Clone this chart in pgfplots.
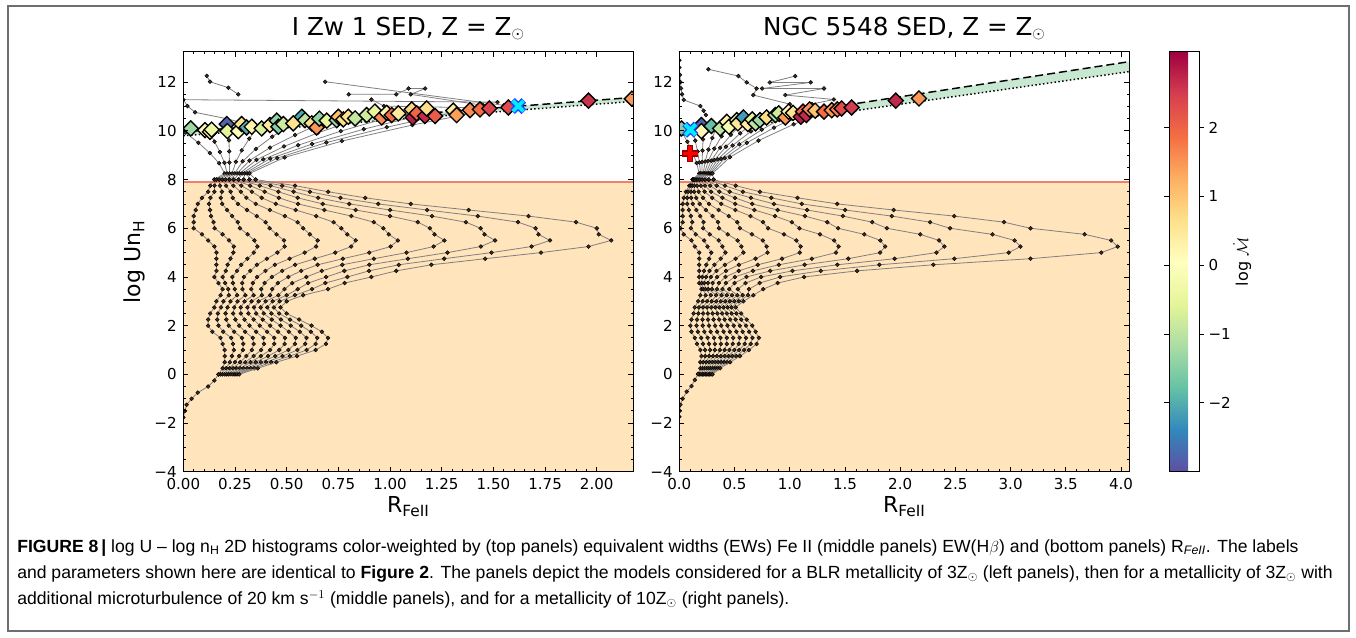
\documentclass[border=0pt]{standalone}
\usepackage{fontspec}
\setmainfont{DejaVu Sans}
\newfontfamily\capfont{Liberation Sans}
\usepackage{pgfplots}
\usepackage{pgfplotstable}
\pgfplotsset{compat=1.18}

\definecolor{bgorange}{RGB}{255,228,188}
\definecolor{hline}{RGB}{240,128,108}
\definecolor{bandgreen}{RGB}{200,232,210}
\definecolor{xcyan}{RGB}{0,235,255}
\definecolor{xblue}{RGB}{30,70,255}
\definecolor{pred}{RGB}{255,0,0}
\definecolor{pdark}{RGB}{150,0,0}
\definecolor{framegray}{RGB}{110,110,110}
\definecolor{dotfill}{RGB}{60,45,30}

% model grid, I Zw 1 SED: one column per track
\pgfplotstableread{
y c0 c1 c2 c3 c4 c5 c6 c7 c8 c9 c10
0.00 0.17 0.18 0.19 0.20 0.21 0.22 0.23 0.24 0.25 0.26 0.27
0.25 0.19 0.207 0.224 0.241 0.258 0.275 0.292 0.309 0.326 0.343 0.36
0.50 0.20 0.225 0.25 0.275 0.30 0.325 0.35 0.375 0.40 0.425 0.45
0.75 0.20 0.235 0.27 0.305 0.34 0.375 0.41 0.445 0.48 0.515 0.55
1.00 0.20 0.244 0.288 0.332 0.376 0.42 0.464 0.508 0.552 0.596 0.64
1.25 0.19 0.24 0.29 0.34 0.39 0.44 0.49 0.54 0.59 0.64 0.69
1.50 0.18 0.232 0.284 0.336 0.388 0.44 0.492 0.544 0.596 0.648 0.70
1.75 0.14 0.193 0.246 0.299 0.352 0.405 0.458 0.511 0.564 0.617 0.67
2.00 0.12 0.17 0.22 0.27 0.32 0.37 0.42 0.47 0.52 0.57 0.62
2.25 0.12 0.164 0.208 0.252 0.296 0.34 0.384 0.428 0.472 0.516 0.56
2.50 0.13 0.167 0.204 0.241 0.278 0.315 0.352 0.389 0.426 0.463 0.50
2.75 0.15 0.182 0.214 0.246 0.278 0.31 0.342 0.374 0.406 0.438 0.47
3.00 0.16 0.194 0.228 0.262 0.296 0.33 0.364 0.398 0.432 0.466 0.50
3.25 0.18 0.22 0.26 0.30 0.34 0.38 0.42 0.46 0.50 0.54 0.58
3.50 0.19 0.217 0.249 0.286 0.329 0.377 0.430 0.489 0.553 0.622 0.70
3.75 0.17 0.202 0.240 0.285 0.336 0.393 0.457 0.527 0.604 0.687 0.78
4.00 0.15 0.190 0.237 0.293 0.357 0.428 0.508 0.595 0.691 0.794 0.91
4.25 0.16 0.205 0.260 0.324 0.397 0.478 0.570 0.670 0.779 0.898 1.03
4.50 0.16 0.214 0.280 0.356 0.443 0.541 0.650 0.769 0.900 1.042 1.20
4.75 0.16 0.228 0.310 0.404 0.514 0.636 0.772 0.922 1.086 1.262 1.46
5.00 0.16 0.242 0.341 0.455 0.587 0.735 0.899 1.080 1.278 1.491 1.73
5.25 0.15 0.244 0.358 0.490 0.642 0.812 1.003 1.211 1.439 1.685 1.96
5.50 0.12 0.221 0.344 0.487 0.650 0.834 1.038 1.263 1.508 1.774 2.07
5.75 0.09 0.190 0.311 0.451 0.612 0.793 0.994 1.215 1.457 1.718 2.01
6.00 0.05 0.151 0.274 0.417 0.580 0.764 0.968 1.193 1.438 1.704 2.00
6.25 0.05 0.146 0.263 0.398 0.553 0.727 0.921 1.134 1.367 1.619 1.90
6.50 0.05 0.134 0.236 0.355 0.491 0.643 0.813 1.000 1.203 1.424 1.67
6.75 0.06 0.129 0.212 0.308 0.419 0.543 0.682 0.834 1.000 1.179 1.38
7.00 0.07 0.124 0.188 0.264 0.350 0.447 0.555 0.674 0.803 0.943 1.10
7.25 0.09 0.131 0.181 0.239 0.305 0.379 0.462 0.553 0.652 0.760 0.88
7.50 0.12 0.150 0.187 0.229 0.278 0.332 0.393 0.460 0.533 0.612 0.70
7.75 0.13 0.151 0.177 0.207 0.242 0.280 0.323 0.370 0.422 0.478 0.54
8.00 0.15 0.160 0.173 0.188 0.204 0.223 0.244 0.267 0.292 0.320 0.35
}\gridL

% upper fan above the waist, I Zw 1
\pgfplotstableread{
x0 y0 x1 y1 x2 y2 x3 y3 x4 y4 x5 y5 x6 y6 x7 y7 x8 y8 x9 y9 x10 y10
0.15 8.0 0.16 8.0 0.173 8.0 0.188 8.0 0.204 8.0 0.223 8.0 0.244 8.0 0.267 8.0 0.292 8.0 0.32 8.0 0.35 8.0
0.20 8.25 0.212 8.25 0.224 8.25 0.236 8.25 0.248 8.25 0.26 8.25 0.272 8.25 0.284 8.25 0.296 8.25 0.308 8.25 0.32 8.25
0.173 8.67 0.199 8.69 0.223 8.70 0.254 8.73 0.287 8.75 0.320 8.78 0.354 8.81 0.387 8.83 0.420 8.86 0.454 8.88 0.490 8.91
0.128 9.09 0.177 9.13 0.222 9.16 0.283 9.20 0.351 9.26 0.419 9.31 0.487 9.36 0.555 9.41 0.623 9.46 0.692 9.52 0.767 9.58
0.073 9.51 0.151 9.56 0.221 9.61 0.319 9.68 0.430 9.76 0.541 9.83 0.651 9.92 0.762 9.99 0.873 10.07 0.984 10.15 1.108 10.24
0.01 9.93 0.12 10.00 0.22 10.06 0.36 10.15 0.52 10.26 0.68 10.36 0.84 10.47 1.00 10.57 1.16 10.67 1.32 10.78 1.50 10.90
}\fanL

% model grid, NGC 5548 SED
\pgfplotstableread{
y c0 c1 c2 c3 c4 c5 c6 c7 c8 c9 c10
0.00 0.17 0.183 0.196 0.209 0.222 0.235 0.248 0.261 0.274 0.287 0.30
0.25 0.19 0.208 0.226 0.244 0.262 0.28 0.298 0.316 0.334 0.352 0.37
0.50 0.19 0.217 0.244 0.271 0.298 0.325 0.352 0.379 0.406 0.433 0.46
0.75 0.20 0.235 0.27 0.305 0.34 0.375 0.41 0.445 0.48 0.515 0.55
1.00 0.19 0.234 0.278 0.322 0.366 0.41 0.454 0.498 0.542 0.586 0.63
1.25 0.16 0.214 0.268 0.322 0.376 0.43 0.484 0.538 0.592 0.646 0.70
1.50 0.14 0.198 0.256 0.314 0.372 0.43 0.488 0.546 0.604 0.662 0.72
1.75 0.11 0.168 0.226 0.284 0.342 0.40 0.458 0.516 0.574 0.632 0.69
2.00 0.10 0.156 0.212 0.268 0.324 0.38 0.436 0.492 0.548 0.604 0.66
2.25 0.11 0.16 0.21 0.26 0.31 0.36 0.41 0.46 0.51 0.56 0.61
2.50 0.13 0.173 0.216 0.259 0.302 0.345 0.388 0.431 0.474 0.517 0.56
2.75 0.14 0.177 0.214 0.251 0.288 0.325 0.362 0.399 0.436 0.473 0.51
3.00 0.17 0.211 0.252 0.293 0.334 0.375 0.416 0.457 0.498 0.539 0.58
3.25 0.19 0.238 0.286 0.334 0.382 0.43 0.478 0.526 0.574 0.622 0.67
3.50 0.20 0.217 0.236 0.262 0.295 0.34 0.390 0.452 0.530 0.631 0.76
3.75 0.18 0.201 0.226 0.258 0.301 0.358 0.421 0.500 0.599 0.727 0.89
4.00 0.18 0.209 0.242 0.285 0.342 0.418 0.503 0.608 0.741 0.912 1.13
4.25 0.18 0.223 0.273 0.337 0.423 0.538 0.666 0.824 1.024 1.281 1.61
4.50 0.18 0.244 0.318 0.413 0.540 0.71 0.901 1.134 1.431 1.812 2.30
4.75 0.18 0.27 0.375 0.51 0.69 0.93 1.20 1.53 1.95 2.49 3.18
5.00 0.18 0.289 0.417 0.580 0.799 1.09 1.418 1.818 2.328 2.983 3.82
5.25 0.14 0.255 0.389 0.561 0.791 1.098 1.442 1.864 2.40 3.089 3.97
5.50 0.11 0.224 0.357 0.528 0.756 1.06 1.402 1.82 2.352 3.036 3.91
5.75 0.04 0.149 0.276 0.439 0.657 0.948 1.274 1.674 2.182 2.835 3.67
6.00 0.01 0.105 0.216 0.359 0.549 0.803 1.088 1.437 1.880 2.451 3.18
6.25 0.03 0.117 0.219 0.350 0.525 0.758 1.019 1.34 1.747 2.271 2.94
6.50 0.03 0.104 0.190 0.301 0.448 0.645 0.866 1.137 1.481 1.924 2.49
6.75 0.03 0.087 0.154 0.240 0.355 0.508 0.679 0.890 1.157 1.501 1.94
7.00 0.03 0.072 0.121 0.184 0.268 0.38 0.506 0.66 0.856 1.108 1.43
7.25 0.04 0.071 0.107 0.153 0.215 0.298 0.390 0.504 0.648 0.833 1.07
7.50 0.06 0.080 0.104 0.134 0.174 0.228 0.288 0.362 0.455 0.576 0.73
7.75 0.09 0.103 0.117 0.136 0.161 0.195 0.233 0.279 0.338 0.413 0.51
8.00 0.12 0.126 0.132 0.141 0.152 0.168 0.185 0.206 0.232 0.266 0.31
}\gridR

\pgfplotstableread{
x0 y0 x1 y1 x2 y2 x3 y3 x4 y4 x5 y5 x6 y6 x7 y7 x8 y8 x9 y9 x10 y10
0.12 8.0 0.126 8.0 0.132 8.0 0.141 8.0 0.152 8.0 0.168 8.0 0.185 8.0 0.206 8.0 0.232 8.0 0.266 8.0 0.31 8.0
0.18 8.25 0.192 8.25 0.204 8.25 0.216 8.25 0.228 8.25 0.24 8.25 0.252 8.25 0.264 8.25 0.276 8.25 0.288 8.25 0.30 8.25
0.157 8.68 0.182 8.70 0.206 8.72 0.234 8.74 0.261 8.76 0.289 8.78 0.317 8.80 0.347 8.83 0.377 8.85 0.411 8.88 0.458 8.92
0.119 9.12 0.165 9.15 0.210 9.19 0.263 9.23 0.316 9.27 0.369 9.31 0.422 9.35 0.482 9.40 0.543 9.45 0.611 9.51 0.717 9.60
0.073 9.55 0.144 9.60 0.215 9.65 0.299 9.71 0.383 9.78 0.467 9.84 0.551 9.90 0.649 9.98 0.746 10.05 0.857 10.13 1.035 10.27
0.02 9.98 0.12 10.05 0.22 10.12 0.34 10.20 0.46 10.29 0.58 10.37 0.70 10.45 0.84 10.55 0.98 10.65 1.14 10.76 1.40 10.94
}\fanR

% best-fit diamonds: R_FeII, log U n_H, log Mdot
\pgfplotstableread{
x y c
0.036 10.10 -1.3
0.105 10.03 0.2
0.129 9.96 0.5
0.137 10.05 -0.4
0.210 10.28 -2.8
0.213 9.99 -0.6
0.266 9.99 0.1
0.282 10.28 0.6
0.306 10.14 -2.0
0.331 10.17 0.3
0.379 10.10 -0.7
0.419 10.24 0.5
0.452 10.42 -1.4
0.460 10.17 -1.5
0.484 10.28 -0.8
0.532 10.31 0.6
0.573 10.58 -2.1
0.589 10.44 -1.0
0.621 10.31 0.7
0.645 10.14 1.5
0.658 10.50 -1.4
0.694 10.42 -0.5
0.742 10.44 -1.3
0.750 10.58 1.1
0.774 10.47 0.7
0.798 10.58 0.6
0.831 10.51 -0.9
0.887 10.65 -0.8
0.927 10.79 -0.5
0.960 10.55 1.6
0.984 10.74 0.3
1.008 10.65 1.9
1.040 10.72 0.5
1.105 10.88 0.8
1.110 10.55 2.8
1.129 10.72 2.0
1.169 10.61 2.7
1.177 10.92 0.7
1.218 10.61 2.1
1.306 10.83 0.4
1.322 10.65 1.4
1.387 10.85 1.6
1.435 10.88 1.9
1.480 10.92 2.4
1.572 10.96 2.3
1.960 11.24 2.6
2.170 11.32 1.5
}\diaL

\pgfplotstableread{
x y c
0.02 10.10 -1.5
0.20 10.24 -2.8
0.20 9.99 0.2
0.29 10.20 -1.8
0.37 10.10 -1.0
0.43 10.37 0.3
0.45 10.17 -0.2
0.52 10.44 -0.7
0.53 10.31 0.5
0.58 10.55 -2.2
0.62 10.28 0.4
0.66 10.47 -0.6
0.69 10.31 -1.0
0.73 10.44 -1.3
0.79 10.55 0.7
0.87 10.65 -1.2
0.90 10.72 -0.8
0.96 10.55 1.5
0.99 10.79 0.2
1.03 10.74 0.6
1.10 10.58 2.8
1.12 10.79 2.0
1.15 10.65 2.7
1.18 10.88 1.6
1.23 10.83 1.0
1.31 10.79 1.9
1.38 10.85 1.5
1.43 10.88 1.7
1.47 10.92 2.3
1.56 10.96 2.5
1.96 11.24 2.7
2.17 11.33 1.5
}\diaR

\pgfplotsset{
  panel/.style={
    scale only axis, width=337.5pt, height=315pt,
    ymin=-4, ymax=13.25,
    axis on top, clip marker paths=true,
    tick align=inside, major tick length=3.8pt, minor tick length=2pt,
    every tick/.style={black, line width=0.6pt},
    axis line style={line width=0.9pt},
    ytick={-4,-2,...,12}, yticklabels={−4,−2,0,2,4,6,8,10,12},
    minor y tick num=3, minor x tick num=4,
    tick label style={font=\fontsize{11.3}{13}\selectfont},
    yticklabel style={xshift=-1.5pt},
    xticklabel style={yshift=-1.5pt},
    title style={font=\fontsize{18.5}{22}\selectfont, at={(0.5,1)}, anchor=base, yshift=6.5pt},
    xlabel style={font=\fontsize{16.5}{20}\selectfont, at={(axis description cs:0.5,0)}, anchor=north, inner sep=0pt, yshift=-18.5pt},
    point meta min=-3.0, point meta max=3.1,
    colormap={spectralr}{rgb255=(94,79,162) rgb255=(50,136,189) rgb255=(102,194,165) rgb255=(171,221,164) rgb255=(230,245,152) rgb255=(255,255,191) rgb255=(254,224,139) rgb255=(253,174,97) rgb255=(244,109,67) rgb255=(213,62,79) rgb255=(158,1,66)},
  },
  grd/.style={black!50, line width=0.6pt, mark=*, mark size=1.45pt,
    mark options={draw=black, fill=dotfill, line width=0.35pt, solid}},
  dia/.style={scatter, only marks, mark=square*, mark size=4pt,
    scatter/use mapped color={draw=black, fill=mapped color},
    mark options={rotate=45, line width=1pt}, point meta=explicit},
}

\begin{document}
\begin{tikzpicture}
\path[use as bounding box] (0,0) rectangle (1017pt,-477.75pt);
\draw[framegray, line width=0.8pt] (6pt,-4.5pt) rectangle (1011.75pt,-473.25pt);

% ---------- left panel ----------
\begin{axis}[panel, at={(137.5pt,-38.8pt)}, anchor=north west,
  xmin=0, xmax=2.177,
  xtick={0,0.25,...,2}, xticklabels={0.00,0.25,0.50,0.75,1.00,1.25,1.50,1.75,2.00},
  title={I Zw 1 SED, Z = Z$_\odot$},
  xlabel={R\textsubscript{FeII}},
  ylabel={log Un\textsubscript{H}},
  ylabel style={font=\fontsize{16.5}{20}\selectfont, at={(axis description cs:-0.108,0.5)}, anchor=center, inner sep=0pt},
]
\addplot[fill=bgorange, draw=none] coordinates {(-0.1,-4.5) (2.3,-4.5) (2.3,7.9) (-0.1,7.9)} -- cycle;
\addplot[fill=bandgreen, draw=none] coordinates {(0,9.96) (2.3,11.455) (2.3,11.29) (0,9.80)} -- cycle;
\addplot[hline, line width=1pt] coordinates {(-0.1,7.9) (2.3,7.9)};
\addplot[black, line width=1.1pt, dash pattern=on 6pt off 3pt] coordinates {(0,9.96) (2.3,11.455)};
\addplot[black, line width=1.1pt, dash pattern=on 1.1pt off 1.8pt] coordinates {(0,9.80) (2.3,11.29)};
\pgfplotsinvokeforeach{0,...,10}{\addplot[grd] table[x=c#1, y=y] {\gridL};}
\pgfplotsinvokeforeach{0,...,10}{\addplot[grd] table[x=x#1, y=y#1] {\fanL};}
\addplot[grd] coordinates {(0.0,-1.77) (0.008,-1.5) (0.016,-1.25) (0.04,-1.0) (0.07,-0.75) (0.12,-0.5) (0.15,-0.25) (0.17,0.0)};
\addplot[grd] coordinates {(0.113,12.26) (0.129,12.02) (0.218,11.77) (0.266,11.50)};
\addplot[grd] coordinates {(1.52,11.18) (0.0,11.28) (0.02,11.02) (0.057,10.76) (0.21,10.50) (0.30,10.30)};
\addplot[grd] coordinates {(0.686,12.02) (1.55,11.05)};
\addplot[grd] coordinates {(0.80,11.50) (1.03,11.50) (1.09,11.74) (1.17,11.74) (1.10,11.50) (1.45,11.05)};
\addplot[grd] coordinates {(0.91,11.29) (0.97,11.02) (1.40,10.95)};
\addplot[dia] table[x=x, y=y, meta=c] {\diaL};
\addplot[xblue, only marks, mark=x, mark size=6pt, mark options={line width=5pt}] coordinates {(1.62,11.02)};
\addplot[xcyan, only marks, mark=x, mark size=5.6pt, mark options={line width=2.9pt}] coordinates {(1.62,11.02)};
\end{axis}

% ---------- right panel ----------
\begin{axis}[panel, at={(509.5pt,-38.8pt)}, anchor=north west,
  xmin=0, xmax=4.075,
  xtick={0,0.5,...,4}, xticklabels={0.0,0.5,1.0,1.5,2.0,2.5,3.0,3.5,4.0},
  title={NGC 5548 SED, Z = Z$_\odot$},
  xlabel={R\textsubscript{FeII}},
  colorbar,
  colorbar style={
    at={(parent axis.north east)}, anchor=north west, xshift=21.3pt,
    scale only axis, width=22.5pt,
    title={}, xlabel={}, xtick=\empty,
    ytick={-2,-1,0,1,2}, yticklabels={−2,−1,0,1,2},
    minor y tick num=0,
    tick align=outside, major tick length=3.5pt,
    every tick/.style={black, line width=0.6pt},
    yticklabel pos=right,
    yticklabel style={font=\fontsize{11.3}{13}\selectfont},
    axis line style={line width=0.8pt},
    ylabel={log $\dot{\mathcal{M}}$},
    ylabel style={font=\fontsize{12}{14}\selectfont, at={(axis description cs:2.44,0.5)}, anchor=center, inner sep=0pt},
  },
]
\addplot[fill=bgorange, draw=none] coordinates {(-0.1,-4.5) (4.3,-4.5) (4.3,7.9) (-0.1,7.9)} -- cycle;
\addplot[fill=bandgreen, draw=none] coordinates {(0,10.01) (4.3,13.00) (4.3,12.58) (0,9.80)} -- cycle;
\addplot[hline, line width=1pt] coordinates {(-0.1,7.9) (4.3,7.9)};
\addplot[black, line width=1.1pt, dash pattern=on 6pt off 3pt] coordinates {(0,10.01) (4.3,13.00)};
\addplot[black, line width=1.1pt, dash pattern=on 1.1pt off 1.8pt] coordinates {(0,9.80) (4.3,12.58)};
\pgfplotsinvokeforeach{0,...,10}{\addplot[grd] table[x=c#1, y=y] {\gridR};}
\pgfplotsinvokeforeach{0,...,10}{\addplot[grd] table[x=x#1, y=y#1] {\fanR};}
\addplot[grd] coordinates {(0.0,-1.74) (0.004,-1.5) (0.01,-1.25) (0.03,-1.0) (0.067,-0.71) (0.11,-0.48) (0.14,-0.23) (0.17,0.02)};
\addplot[grd] coordinates {(0.263,12.53) (0.535,12.25) (0.61,11.99) (0.70,11.74) (0.67,11.47) (1.0,11.10)};
\addplot[grd] coordinates {(1.05,12.25) (0.82,11.99) (1.19,11.99) (0.75,11.74) (1.31,11.74) (0.96,11.47) (1.40,11.29) (1.20,11.10)};
\addplot[grd] coordinates {(0.0,12.9) (0.0,12.6) (0.005,12.3) (0.01,12.0) (0.015,11.75) (0.025,11.5) (0.04,11.27) (0.19,11.02) (0.22,10.83) (0.24,10.65)};
\addplot[dia] table[x=x, y=y, meta=c] {\diaR};
\addplot[xblue, only marks, mark=x, mark size=6pt, mark options={line width=5pt}] coordinates {(0.10,10.05)};
\addplot[xcyan, only marks, mark=x, mark size=5.6pt, mark options={line width=2.9pt}] coordinates {(0.10,10.05)};
\addplot[pdark, only marks, mark=+, mark size=6.2pt, mark options={line width=4.6pt}] coordinates {(0.097,9.07)};
\addplot[pred, only marks, mark=+, mark size=5.6pt, mark options={line width=2.9pt}] coordinates {(0.097,9.07)};
\end{axis}

% ---------- caption ----------
\begin{scope}[every node/.style={anchor=base west, inner sep=0pt, font=\capfont\fontsize{13.2}{16}\selectfont}]
\node at (12.75pt,-414pt) {\textbf{FIGURE 8}\,\textbf{|} log U – log n\textsubscript{H} 2D histograms color-weighted by (top panels) equivalent widths (EWs) Fe II (middle panels) EW(H$\beta$) and (bottom panels) R\textsubscript{\textit{FeII}}. The labels};
\node at (12.75pt,-433.5pt) {and parameters shown here are identical to \textbf{Figure 2}. The panels depict the models considered for a BLR metallicity of 3Z$_\odot$ (left panels), then for a metallicity of 3Z$_\odot$ with};
\node at (12.75pt,-453pt) {additional microturbulence of 20 km s$^{-1}$ (middle panels), and for a metallicity of 10Z$_\odot$ (right panels).};
\end{scope}
\end{tikzpicture}
\end{document}
